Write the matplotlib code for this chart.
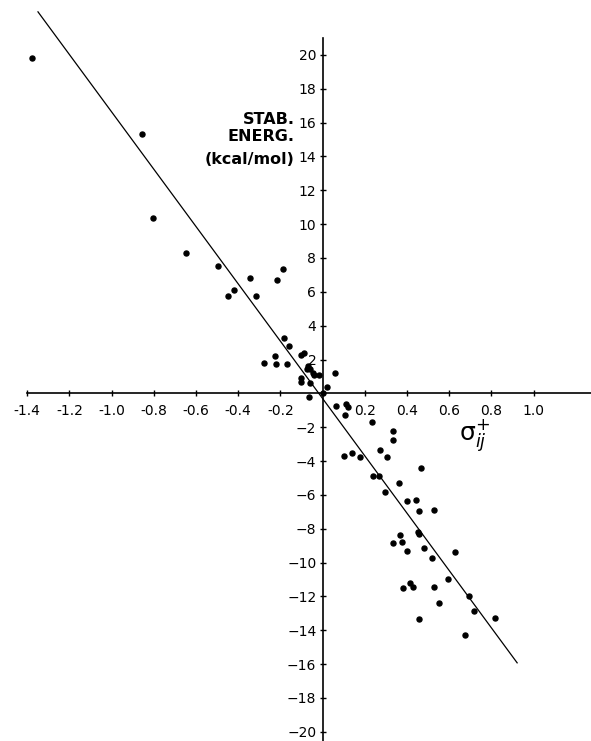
import matplotlib
matplotlib.use("Agg")
import matplotlib.pyplot as plt

# sigma+ ij values and stabilisation energies (kcal/mol)
sigma = [-1.379, -0.855, -0.806, -0.647, -0.495, -0.346, -0.419, -0.449, -0.318,
         -0.217, -0.187, -0.185, -0.160, -0.277, -0.228, -0.223, -0.171, -0.104,
         -0.089, -0.069, -0.061, -0.076, -0.044, -0.040, -0.016, -0.104, -0.103,
         -0.060, -0.064, 0.057, 0.019, 0.000, 0.063, 0.110, 0.121, 0.108,
         0.232, 0.335, 0.335, 0.101, 0.137, 0.177, 0.272, 0.306, 0.466,
         0.237, 0.268, 0.363, 0.295, 0.401, 0.441, 0.458, 0.527,
         0.450, 0.458, 0.366, 0.332, 0.377, 0.398, 0.482, 0.628, 0.519,
         0.594, 0.382, 0.414, 0.429, 0.526, 0.692, 0.551, 0.717, 0.817,
         0.458, 0.674]
energy = [19.8, 15.35, 10.36, 8.3, 7.55, 6.8, 6.12, 5.73, 5.73,
          6.67, 7.33, 3.27, 2.8, 1.78, 2.21, 1.72, 1.76, 2.25,
          2.41, 1.62, 1.46, 1.43, 1.23, 1.08, 1.10, 0.88, 0.65,
          0.60, -0.2, 1.19, 0.35, 0.0, -0.72, -0.62, -0.82, -1.26,
          -1.70, -2.21, -2.77, -3.71, -3.55, -3.75, -3.36, -3.79, -4.43,
          -4.87, -4.87, -5.28, -5.81, -6.35, -6.29, -6.94, -6.88,
          -8.2, -8.3, -8.35, -8.83, -8.80, -9.33, -9.17, -9.38, -9.74,
          -10.99, -11.50, -11.22, -11.47, -11.44, -12.0, -12.39, -12.84, -13.27,
          -13.33, -14.31]

# regression line end points
fit_x = [-1.349, 0.922]
fit_y = [22.55, -15.93]

x_ticks = [-1.4, -1.2, -1.0, -0.8, -0.6, -0.4, -0.2, 0.2, 0.4, 0.6, 0.8, 1.0]
x_labels = ["-1.4", "-1.2", "-1.0", "-0.8", "-0.6", "-0.4", "-0.2",
            "0.2", "0.4", "0.6", "0.8", "1.0"]
y_ticks = [-20, -18, -16, -14, -12, -10, -8, -6, -4, -2,
           2, 4, 6, 8, 10, 12, 14, 16, 18, 20]
y_labels = ["\u221220", "\u221218", "\u221216", "\u221214", "\u221212", "\u221210",
            "\u22128", "\u22126", "\u22124", "\u22122",
            "2", "4", "6", "8", "10", "12", "14", "16", "18", "20"]

fig = plt.figure(figsize=(5.91, 7.41), dpi=100)
ax = fig.add_axes([0, 0, 1, 1])
ax.set_xlim(-1.529, 1.272)
ax.set_ylim(-20.55, 23.25)

ax.plot(fit_x, fit_y, color="black", lw=0.9)
ax.scatter(sigma, energy, s=13, color="black", zorder=3)

for s in ["top", "right"]:
    ax.spines[s].set_visible(False)
ax.spines["left"].set_position(("data", 0))
ax.spines["bottom"].set_position(("data", 0))
ax.spines["left"].set_bounds(-20.55, 21.0)
ax.spines["bottom"].set_bounds(-1.4, 1.272)
ax.spines["left"].set_linewidth(1.2)
ax.spines["bottom"].set_linewidth(1.2)

ax.set_xticks(x_ticks)
ax.set_xticklabels(x_labels)
ax.set_yticks(y_ticks)
ax.set_yticklabels(y_labels)
ax.tick_params(axis="both", direction="inout", length=5, width=1, labelsize=10)
ax.tick_params(axis="x", pad=5)
ax.tick_params(axis="y", pad=2)

ax.text(-0.131, 16.19, "STAB.", ha="right", va="center",
        fontsize=11.5, fontweight="bold")
ax.text(-0.131, 15.17, "ENERG.", ha="right", va="center",
        fontsize=11.5, fontweight="bold")
ax.text(-0.131, 13.83, "(kcal/mol)", ha="right", va="center",
        fontsize=11.5, fontweight="bold")
ax.text(0.645, -2.5, r"$\mathregular{\sigma}^{+}_{ij}$", ha="left", va="center",
        fontsize=18)

fig.savefig("out.png", dpi=100)
